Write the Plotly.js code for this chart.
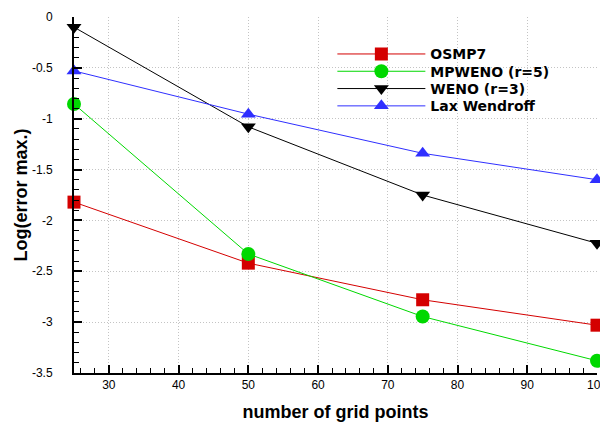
<!DOCTYPE html>
<html>
<head>
<meta charset="utf-8">
<script src="https://cdn.plot.ly/plotly-3.0.1.min.js"></script>
<style>html,body{margin:0;padding:0;background:#fff;}#chart{width:600px;height:426px;}</style>
</head>
<body>
<div id="chart"></div>
<script>
const gridPoints = [25, 50, 75, 100];
const osmp7 = [-1.82, -2.42, -2.78, -3.03];
const mpweno = [-0.855, -2.33, -2.945, -3.38];
const weno = [-0.1, -1.08, -1.75, -2.225];
const laxWendroff = [-0.53, -0.955, -1.34, -1.60];
const seriesNames = ['OSMP7', 'MPWENO (r=5)', 'WENO (r=3)', 'Lax Wendroff'];
const yTickVals = [0, -0.5, -1, -1.5, -2, -2.5, -3, -3.5];
const yTickText = ['0', '-0.5', '-1', '-1.5', '-2', '-2.5', '-3', '-3.5'];
const xTickVals = [30, 40, 50, 60, 70, 80, 90, 100];
const xTickText = ['30', '40', '50', '60', '70', '80', '90', '100'];

const font = 'Liberation Sans, Arial, Helvetica, sans-serif';
const legendFont = 'DejaVu Sans, Liberation Sans, Arial, sans-serif';

function trace(y, name, color, symbol, size) {
  return {
    x: gridPoints, y: y, name: name, type: 'scatter', mode: 'lines+markers',
    cliponaxis: false,
    line: {color: color, width: 1},
    marker: {color: color, symbol: symbol, size: size}
  };
}

const data = [
  trace(osmp7, seriesNames[0], '#d40000', 'square', 13),
  trace(mpweno, seriesNames[1], '#00d800', 'circle', 14),
  trace(weno, seriesNames[2], '#000000', 'triangle-down', 13),
  trace(laxWendroff, seriesNames[3], '#2f2fff', 'triangle-up', 13)
];

const gridStyle = {showgrid: true, gridcolor: '#c4c4c4', griddash: '1px,2px', gridwidth: 1};

const layout = {
  width: 600, height: 426,
  margin: {l: 74, r: 3, t: 17, b: 53},
  paper_bgcolor: '#fff', plot_bgcolor: '#fff',
  font: {family: font, size: 12, color: '#000'},
  showlegend: true,
  legend: {
    x: 0.494, y: 0.94, xanchor: 'left', yanchor: 'top',
    bgcolor: 'rgba(0,0,0,0)', borderwidth: 0,
    itemwidth: 88,
    font: {family: legendFont, size: 14, color: '#000', weight: 'bold'},
    tracegroupgap: 0
  },
  xaxis: Object.assign({
    range: [25, 100], tickmode: 'array', tickvals: xTickVals, ticktext: xTickText,
    ticks: 'inside', ticklen: 8, tickwidth: 2, tickcolor: '#000',
    showline: true, linecolor: '#000', linewidth: 2, mirror: false,
    zeroline: false, ticklabeloverflow: 'allow',
    tickfont: {family: font, size: 12, color: '#000'},
    minor: {dtick: 2, tick0: 0, ticks: 'inside', ticklen: 5, tickwidth: 1, tickcolor: '#000', showgrid: false},
    title: {text: 'number of grid points', font: {family: font, size: 18, color: '#000', weight: 'bold'}, standoff: 14}
  }, gridStyle),
  yaxis: Object.assign({
    range: [-3.5, 0], tickmode: 'array', tickvals: yTickVals, ticktext: yTickText,
    ticks: 'inside', ticklen: 8, tickwidth: 2, tickcolor: '#000',
    showline: true, linecolor: '#000', linewidth: 2, mirror: false,
    zeroline: false, ticklabeloverflow: 'allow',
    ticklabelstandoff: 17,
    tickfont: {family: font, size: 12, color: '#000'},
    minor: {dtick: 0.1, tick0: 0, ticks: 'inside', ticklen: 5, tickwidth: 1, tickcolor: '#000', showgrid: false},
    title: {text: 'Log(error max.)', font: {family: font, size: 18, color: '#000', weight: 'bold'}, standoff: 0}
  }, gridStyle)
};

Plotly.newPlot('chart', data, layout, {staticPlot: true, displayModeBar: false}).then(function (gd) {
  // tighten legend row spacing to match the reference
  const items = gd.querySelectorAll('.legend .traces');
  let x0 = null, y0 = null;
  items.forEach(function (g, i) {
    const m = /translate\(\s*([-\d.]+)[ ,]+([-\d.]+)\s*\)/.exec(g.getAttribute('transform') || '');
    if (!m) return;
    if (x0 === null) { x0 = parseFloat(m[1]); y0 = parseFloat(m[2]); }
    g.setAttribute('transform', 'translate(' + x0 + ',' + (y0 + i * 17.3) + ')');
  });
});
</script>
</body>
</html>
